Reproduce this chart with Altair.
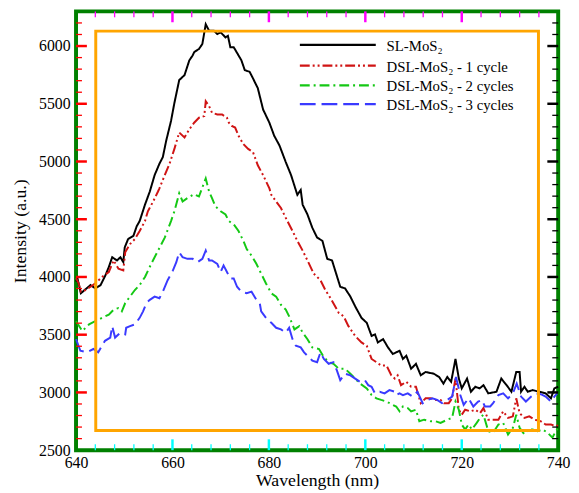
import altair as alt
import pandas as pd

# ---------------- data ----------------
series_names = ["SL-MoS₂", "DSL-MoS₂ - 1 cycle", "DSL-MoS₂ - 2 cycles", "DSL-MoS₂ - 3 cycles"]
series_colors = ["#000000", "#d01414", "#14c814", "#3a3aff"]
series_dashes = [[1, 0], [10, 3, 2, 3, 2, 3], [10, 4, 2, 4], [16, 6]]

wl_sl = [640.0, 640.3, 641.0, 643.0, 644.0, 645.1, 646.1, 646.8, 647.5, 648.5,
         649.2, 649.8, 650.1, 650.8, 651.9, 652.6, 653.2, 654.3, 655.3, 656.3,
         657.3, 658.0, 658.7, 659.7, 660.4, 661.4, 662.5, 663.5, 664.2, 664.5,
         665.5, 666.2, 666.9, 667.6, 668.6, 669.3, 670.0, 671.0, 671.5, 672.0,
         672.7, 673.7, 674.3, 675.0, 676.0, 676.7, 677.7, 678.8, 680.1, 681.1,
         682.2, 683.5, 684.6, 685.9, 686.6, 687.0, 688.0, 689.0, 690.0, 691.1,
         692.1, 693.1, 694.8, 695.8, 696.9, 697.9, 699.2, 700.3, 701.3, 702.0,
         702.6, 703.7, 704.7, 705.7, 707.1, 707.8, 708.5, 709.5, 710.5, 711.5,
         712.5, 714.2, 715.3, 716.2, 717.0, 717.8, 718.7, 719.4, 720.0, 721.1,
         721.9, 722.8, 723.7, 724.5, 725.5, 727.2, 728.2, 729.3, 730.3, 731.3,
         732.0, 732.3, 733.0, 733.7, 734.7, 736.1, 737.4, 738.5, 739.2, 740.0]
int_sl = [3960, 3987, 3859, 3930, 3901, 3930, 4015, 4086, 4171, 4143,
          4171, 4128, 4256, 4328, 4356, 4441, 4484, 4626, 4740, 4882,
          4981, 5038, 5180, 5351, 5507, 5705, 5748, 5876, 5919, 5947,
          5975, 6018, 6189, 6132, 6132, 6104, 6118, 6075, 6089, 5990,
          5990, 5919, 5876, 5791, 5777, 5720, 5635, 5450, 5336, 5223,
          5138, 4995, 4882, 4711, 4754, 4626, 4541, 4427, 4341, 4313,
          4157, 4143, 3915, 3901, 3830, 3745, 3646, 3603, 3489, 3503,
          3433, 3461, 3390, 3333, 3361, 3290, 3318, 3205, 3248, 3148,
          3177, 3162, 3134, 3077, 3134, 3092, 3290, 3120, 3035, 3120,
          3006, 3049, 3035, 3063, 2992, 3006, 3120, 3063, 3006, 3177,
          3177, 3006, 3049, 3006, 3020, 3006, 2992, 2949, 3035, 3049]

wl_c1 = [640.0, 640.5, 641.0, 642.0, 643.0, 644.0, 645.4, 646.8, 647.8, 648.8,
         649.8, 650.2, 651.2, 652.2, 653.2, 654.3, 654.9, 656.0, 657.0, 657.3,
         658.4, 659.4, 660.4, 661.4, 662.5, 663.5, 664.5, 665.5, 666.6, 666.9,
         667.6, 668.2, 669.3, 670.3, 671.3, 671.7, 672.3, 673.0, 673.7, 674.7,
         675.7, 676.7, 677.7, 678.8, 680.1, 680.5, 681.5, 682.5, 683.5, 684.9,
         685.9, 687.0, 688.0, 689.3, 690.7, 691.7, 692.8, 694.5, 695.5, 696.5,
         697.9, 699.2, 700.3, 701.3, 702.3, 703.3, 704.4, 705.4, 706.1, 706.7,
         707.4, 708.5, 709.5, 710.5, 711.5, 712.5, 713.6, 714.6, 715.6, 716.3,
         717.3, 718.0, 718.7, 719.4, 720.0, 720.7, 721.8, 722.8, 723.8, 724.5,
         725.5, 726.5, 727.6, 728.6, 729.6, 730.6, 731.3, 732.0, 733.0, 734.0,
         735.1, 736.4, 737.4, 738.5, 739.5, 740.0]
int_c1 = [3990, 3950, 3873, 3887, 3915, 3944, 4000, 4043, 4143, 4072,
          4057, 4214, 4285, 4328, 4398, 4484, 4569, 4654, 4740, 4768,
          4882, 4981, 5109, 5251, 5208, 5279, 5336, 5379, 5393, 5521,
          5479, 5422, 5407, 5407, 5379, 5336, 5308, 5294, 5223, 5151,
          5109, 5081, 4967, 4882, 4768, 4711, 4654, 4597, 4512, 4398,
          4313, 4228, 4143, 4029, 3972, 3887, 3816, 3688, 3659, 3574,
          3489, 3433, 3404, 3290, 3262, 3233, 3233, 3148, 3120, 3148,
          3063, 3092, 3049, 3049, 2907, 2949, 2949, 2935, 2935, 2907,
          2907, 2949, 3120, 2850, 2807, 2850, 2836, 2850, 2821, 2864,
          2764, 2764, 2764, 2836, 2779, 2793, 2949, 2821, 2779, 2793,
          2764, 2750, 2722, 2722, 2708, 2715]

wl_c2 = [640.0, 641.3, 642.7, 644.0, 645.4, 646.8, 647.8, 648.8, 649.5, 650.2,
         651.2, 652.2, 653.2, 654.3, 655.6, 657.0, 658.4, 659.7, 660.4, 661.4,
         662.1, 663.1, 664.5, 665.5, 666.9, 667.6, 668.2, 668.9, 670.0, 671.0,
         671.7, 672.7, 673.7, 674.7, 675.4, 676.4, 677.4, 678.4, 679.4, 680.5,
         681.5, 682.5, 683.5, 684.2, 685.3, 686.3, 687.0, 688.0, 689.0, 690.4,
         691.4, 692.4, 693.4, 694.5, 695.8, 696.9, 697.9, 698.9, 700.3, 701.3,
         702.3, 703.3, 704.4, 705.7, 706.4, 707.1, 707.8, 708.8, 709.5, 710.5,
         711.2, 712.2, 713.6, 714.6, 715.6, 717.0, 718.0, 718.7, 719.4, 720.0,
         720.7, 721.4, 722.1, 723.1, 723.8, 724.5, 725.5, 726.5, 727.6, 728.6,
         729.6, 730.6, 731.3, 732.0, 733.0, 733.7, 734.7, 735.7, 736.8, 737.8,
         738.8, 739.5, 740.0]
int_c2 = [3617, 3532, 3589, 3617, 3646, 3674, 3717, 3731, 3702, 3774,
          3830, 3887, 3930, 4000, 4114, 4228, 4341, 4484, 4569, 4725,
          4654, 4683, 4717, 4697, 4853, 4740, 4683, 4612, 4569, 4541,
          4484, 4456, 4398, 4313, 4242, 4185, 4114, 4029, 3944, 3859,
          3830, 3759, 3717, 3659, 3546, 3574, 3518, 3461, 3390, 3376,
          3305, 3262, 3248, 3205, 3205, 3162, 3120, 3077, 3035, 2977,
          2949, 2935, 2921, 2892, 2878, 2836, 2878, 2864, 2836, 2850,
          2750, 2764, 2750, 2750, 2736, 2764, 2779, 2921, 2850, 2722,
          2679, 2722, 2679, 2736, 2779, 2807, 2665, 2651, 2722, 2736,
          2636, 2693, 2807, 2693, 2636, 2679, 2679, 2665, 2679, 2651,
          2608, 2665, 2693]

wl_c3 = [640.0, 640.9, 642.3, 643.6, 644.6, 646.0, 647.1, 647.5, 648.1, 649.2,
         650.2, 650.4, 651.2, 652.2, 653.2, 653.9, 654.6, 655.3, 656.3, 657.3,
         658.0, 659.0, 660.1, 660.8, 661.4, 662.1, 663.1, 664.2, 665.2, 666.2,
         666.9, 667.6, 668.2, 669.3, 670.0, 670.6, 671.3, 672.0, 672.7, 673.4,
         674.3, 675.4, 676.4, 677.4, 678.1, 678.4, 679.4, 680.5, 681.5, 682.5,
         683.5, 684.2, 684.9, 685.6, 686.6, 687.3, 688.0, 689.0, 690.0, 690.7,
         691.4, 692.4, 693.4, 694.1, 694.8, 695.8, 696.9, 697.9, 698.9, 699.9,
         700.6, 701.3, 702.0, 703.0, 704.0, 705.0, 706.1, 706.4, 707.1, 707.8,
         708.8, 709.8, 710.8, 711.9, 712.9, 713.9, 714.9, 715.9, 717.0, 718.0,
         718.8, 719.7, 720.4, 721.4, 722.4, 723.4, 724.2, 724.8, 725.9, 726.5,
         727.6, 728.6, 729.6, 730.6, 731.4, 732.3, 733.3, 734.4, 735.4, 736.4,
         737.4, 738.5, 739.2, 739.8]
int_c3 = [3461, 3361, 3347, 3376, 3347, 3447, 3475, 3574, 3475, 3518,
          3503, 3560, 3574, 3589, 3646, 3702, 3774, 3802, 3830, 3816,
          3873, 3972, 4057, 4128, 4214, 4171, 4157, 4157, 4128, 4157,
          4228, 4143, 4143, 4114, 4043, 4100, 4043, 3987, 3987, 3915,
          3873, 3859, 3873, 3802, 3774, 3702, 3646, 3603, 3560, 3546,
          3518, 3560, 3461, 3404, 3390, 3347, 3318, 3276, 3262, 3347,
          3290, 3248, 3262, 3191, 3106, 3162, 3148, 3120, 3092, 3106,
          3063, 3049, 2992, 3006, 2992, 3020, 3006, 2977, 2992, 2977,
          2992, 2964, 3006, 2907, 2935, 2949, 2935, 2907, 2935, 2964,
          3134, 2977, 2892, 2949, 2878, 2921, 2935, 2878, 2878, 2907,
          2977, 2992, 2949, 2992, 3077, 2964, 2921, 2964, 2992, 2985,
          2964, 2921, 2964, 2992]

x_label_values = [640, 660, 680, 700, 720, 740]
y_label_values = [2500, 3000, 3500, 4000, 4500, 5000, 5500, 6000]
x_domain = [640, 740]
y_domain = [2500, 6300]
x_minor_step = 4
y_minor_step = 100

W, H = 489, 445
FONT = "Liberation Serif"
INK = "#000000"

xs = alt.Scale(domain=x_domain, nice=False, zero=False)
ys = alt.Scale(domain=y_domain, nice=False, zero=False)
xaxis = alt.Axis(values=x_label_values, title="Wavelength (nm)", grid=False, ticks=False,
                 domain=False, labelFont=FONT, labelFontSize=16, labelColor=INK, format="d",
                 labelPadding=5, labelFlush=False, titleFont=FONT, titleFontSize=18, titleFontWeight=400,
                 titleColor=INK, titlePadding=1)
yaxis = alt.Axis(values=y_label_values, title="Intensity (a.u.)", grid=False, ticks=False,
                 domain=False, labelFont=FONT, labelFontSize=16, labelColor=INK, format="d",
                 labelPadding=6, titleFont=FONT, titleFontSize=18, titleFontWeight=400,
                 titleColor=INK, titlePadding=9)

X = alt.X("wl:Q", scale=xs, axis=xaxis)
Y = alt.Y("intensity:Q", scale=ys, axis=yaxis)
Xplain = alt.X("wl:Q", scale=xs)
Yplain = alt.Y("intensity:Q", scale=ys)

layers = []
for name, col, dash, w, v in zip(series_names, series_colors, series_dashes,
                                 [wl_sl, wl_c1, wl_c2, wl_c3], [int_sl, int_c1, int_c2, int_c3]):
    assert len(w) == len(v), (name, len(w), len(v))
    sdf = pd.DataFrame({"wl": w, "intensity": v})
    layers.append(alt.Chart(sdf).mark_line(color=col, strokeWidth=2, strokeDash=dash).encode(x=X, y=Y))

# inward ticks, each side in its own test colour
for major, ln, sw in [(True, 11, 2.5), (False, 6, 1.3)]:
    yt = pd.DataFrame({"intensity": [v for v in range(y_domain[0] + y_minor_step, y_domain[1], y_minor_step)
                                     if (v % 500 == 0) == major]})
    xt = pd.DataFrame({"wl": [v for v in range(x_domain[0] + x_minor_step, x_domain[1], x_minor_step)
                              if (v % 20 == 0) == major]})
    layers.append(alt.Chart(yt).mark_rule(color="red", strokeWidth=sw).encode(
        y=Y, x=alt.value(0), x2=alt.value(ln)))
    layers.append(alt.Chart(yt).mark_rule(color=INK, strokeWidth=sw).encode(
        y=Y, x=alt.value(W), x2=alt.value(W - ln)))
    layers.append(alt.Chart(xt).mark_rule(color="cyan", strokeWidth=sw).encode(
        x=Xplain, y=alt.value(H), y2=alt.value(H - ln)))
    layers.append(alt.Chart(xt).mark_rule(color="magenta", strokeWidth=sw).encode(
        x=X, y=alt.value(0), y2=alt.value(ln)))

frame_df = pd.DataFrame({"k": [0]})
layers.append(alt.Chart(frame_df).mark_rect(fill="transparent", stroke="orange", strokeWidth=3).encode(
    x=alt.value(20), x2=alt.value(W - 20), y=alt.value(20), y2=alt.value(H - 20)))

# legend (inside plot, upper right)
legend_rows = [34, 55, 75, 94]
for name, col, dash, ly in zip(series_names, series_colors, series_dashes, legend_rows):
    ldf = pd.DataFrame({"label": [name]})
    layers.append(alt.Chart(ldf).mark_rule(color=col, strokeWidth=2.2, strokeDash=dash).encode(
        x=alt.value(227), x2=alt.value(304), y=alt.value(ly)))
    layers.append(alt.Chart(ldf).mark_text(align="left", baseline="middle", font=FONT, fontSize=15,
                                           color=INK, dy=1).encode(
        x=alt.value(315), y=alt.value(ly), text="label:N"))

chart = alt.layer(*layers).properties(
    width=W, height=H,
    autosize=alt.AutoSizeParams(type="none"),
    padding={"left": 69, "top": 0, "right": 13, "bottom": 40},
).configure(background="white", view=alt.ViewConfig(stroke="green", strokeWidth=4))

chart.save("out.html", embed_options={"renderer": "svg", "actions": False})
